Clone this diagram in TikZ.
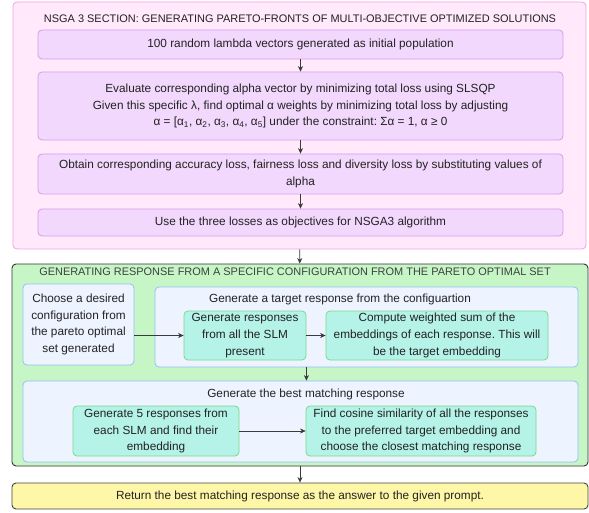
\documentclass[tikz,border=0pt]{standalone}
\usepackage{fontspec}
\setmainfont{Liberation Sans}
\usetikzlibrary{arrows.meta}
\frenchspacing
\definecolor{pinkfill}{HTML}{FFE9FA}
\definecolor{pinkline}{HTML}{F59FE4}
\definecolor{purpfill}{HTML}{F2D8FC}
\definecolor{purpline}{HTML}{D99AEB}
\definecolor{greenfill}{HTML}{C6F5C6}
\definecolor{greenline}{HTML}{333333}
\definecolor{bluefill}{HTML}{EDF4FF}
\definecolor{blueline}{HTML}{93C0F7}
\definecolor{tealfill}{HTML}{B5F2E8}
\definecolor{tealline}{HTML}{7AD98A}
\definecolor{yelfill}{HTML}{FFF7A8}
\definecolor{yelline}{HTML}{444444}
\definecolor{arrcol}{HTML}{3A3A3A}
\definecolor{txt}{HTML}{222222}
\tikzset{
  base/.style={rectangle, rounded corners=4pt, inner sep=0pt, align=center, text=txt,
    font=\fontsize{11.8}{16.7}\selectfont\frenchspacing},
  pinkgroup/.style={base, draw=pinkline, fill=pinkfill, line width=0.8pt},
  purpbox/.style={base, draw=purpline, fill=purpfill, line width=0.8pt},
  greengroup/.style={base, draw=greenline, fill=greenfill, line width=0.9pt},
  bluegroup/.style={base, draw=blueline, fill=bluefill, line width=0.8pt},
  tealbox/.style={base, draw=tealline, fill=tealfill, line width=0.8pt},
  yelbox/.style={base, draw=yelline, fill=yelfill, line width=0.9pt},
  grouptitle/.style={inner sep=0pt, text=txt, font=\fontsize{11.8}{14}\selectfont},
  captitle/.style={inner sep=0pt, font=\fontsize{10.95}{13}\selectfont},
  arr/.style={draw=arrcol, line width=0.6pt, -{Stealth[length=5.5pt,width=5pt]}},
  wh/.style 2 args={minimum width=#1pt, minimum height=#2pt}
}
\begin{document}
\begin{tikzpicture}[x=1pt,y=-1pt]
\useasboundingbox[fill=white] (0,0) rectangle (589,513);
% NSGA section
\node[pinkgroup, wh={573}{247}] (pink) at (299.5,125.5) {};
\node[captitle, text=txt] (pinktitle) at (300,19) {NSGA 3 SECTION: GENERATING PARETO-FRONTS OF MULTI-OBJECTIVE OPTIMIZED SOLUTIONS};
\node[purpbox, wh={525}{29}] (b1) at (300.5,44.5) {100 random lambda vectors generated as initial population};
\node[purpbox, wh={525}{68}] (b2) at (300.5,106) {Evaluate corresponding alpha vector by minimizing total loss using SLSQP\\
Given this specific λ, find optimal α weights by minimizing total loss by adjusting\\
α = [α\textsubscript{1}, α\textsubscript{2}, α\textsubscript{3}, α\textsubscript{4}, α\textsubscript{5}] under the constraint: Σα = 1, α ≥ 0};
\node[purpbox, wh={525}{40}] (b3) at (300.5,174) {Obtain corresponding accuracy loss, fairness loss and diversity loss by substituting values of\\ alpha};
\node[purpbox, wh={525}{27}] (b4) at (300.5,222.5) {Use the three losses as objectives for NSGA3 algorithm};
\draw[arr] (b1) -- (b2);
\draw[arr] (b2) -- (b3);
\draw[arr] (b3) -- (b4);
% Generating response section
\node[greengroup, wh={576}{202}] (green) at (300,365) {};
\node[captitle, text=black!75] (greentitle) at (295,272) {GENERATING RESPONSE FROM A SPECIFIC CONFIGURATION FROM THE PARETO OPTIMAL SET};
\node[bluegroup, wh={111}{81}] (choose) at (78.5,324.5) {Choose a desired\\ configuration from\\ the pareto optimal\\ set generated};
\node[bluegroup, wh={423}{80}] (target) at (366.5,327) {};
\node[grouptitle] (targettitle) at (340,299) {Generate a target response from the configuartion};
\node[tealbox, wh={122}{49}] (genresp) at (245,335.5) {Generate responses\\ from all the SLM\\ present};
\node[tealbox, wh={222}{49}] (compute) at (437,335.5) {Compute weighted sum of the\\ embeddings of each response. This will\\ be the target embedding};
\node[bluegroup, wh={555}{81}] (best) at (300.5,421.5) {};
\node[grouptitle] (besttitle) at (306,394) {Generate the best matching response};
\node[tealbox, wh={166}{50}] (gen5) at (156,431) {Generate 5 responses from\\ each SLM and find their\\ embedding};
\node[tealbox, wh={230}{50}] (cosine) at (421,431) {Find cosine similarity of all the responses\\ to the preferred target embedding and\\ choose the closest matching response};
\draw[arr] (choose.east |- genresp) -- (genresp);
\draw[arr] (genresp) -- (compute);
\draw[arr] (target.south -| genresp.east) -- (best.north -| genresp.east);
\draw[arr] (gen5) -- (cosine);
% final
\node[yelbox, wh={576}{26}] (final) at (300,496) {Return the best matching response as the answer to the given prompt.};
\draw[arr] (pink) -- (green);
\draw[arr] (green) -- (final);
\end{tikzpicture}
\end{document}
